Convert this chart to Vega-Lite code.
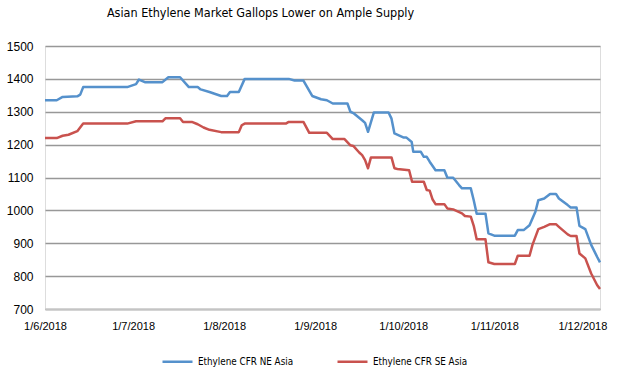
{
  "$schema": "https://vega.github.io/schema/vega-lite/v6.json",
  "width": 555,
  "height": 263,
  "autosize": {"type": "none"},
  "padding": {"left": 45, "top": 46, "right": 18, "bottom": 67},
  "background": "white",
  "title": {
    "text": "Asian Ethylene Market Gallops Lower on Ample Supply",
    "font": "DejaVu Sans Condensed, Liberation Sans",
    "fontSize": 12.5,
    "fontWeight": "normal",
    "color": "#000000",
    "anchor": "middle",
    "frame": "group",
    "dx": -62,
    "offset": 21
  },
  "data": {
    "values": [
      {"d": "2018-06-01", "s": "Ethylene CFR NE Asia", "p": 1335},
      {"d": "2018-06-05", "s": "Ethylene CFR NE Asia", "p": 1335},
      {"d": "2018-06-07", "s": "Ethylene CFR NE Asia", "p": 1345},
      {"d": "2018-06-12", "s": "Ethylene CFR NE Asia", "p": 1347},
      {"d": "2018-06-13", "s": "Ethylene CFR NE Asia", "p": 1352},
      {"d": "2018-06-14", "s": "Ethylene CFR NE Asia", "p": 1375},
      {"d": "2018-06-29", "s": "Ethylene CFR NE Asia", "p": 1375},
      {"d": "2018-07-02", "s": "Ethylene CFR NE Asia", "p": 1384},
      {"d": "2018-07-03", "s": "Ethylene CFR NE Asia", "p": 1398},
      {"d": "2018-07-05", "s": "Ethylene CFR NE Asia", "p": 1390},
      {"d": "2018-07-11", "s": "Ethylene CFR NE Asia", "p": 1390},
      {"d": "2018-07-13", "s": "Ethylene CFR NE Asia", "p": 1405},
      {"d": "2018-07-17", "s": "Ethylene CFR NE Asia", "p": 1405},
      {"d": "2018-07-20", "s": "Ethylene CFR NE Asia", "p": 1375},
      {"d": "2018-07-23", "s": "Ethylene CFR NE Asia", "p": 1375},
      {"d": "2018-07-24", "s": "Ethylene CFR NE Asia", "p": 1368},
      {"d": "2018-07-27", "s": "Ethylene CFR NE Asia", "p": 1360},
      {"d": "2018-07-31", "s": "Ethylene CFR NE Asia", "p": 1348},
      {"d": "2018-08-02", "s": "Ethylene CFR NE Asia", "p": 1348},
      {"d": "2018-08-03", "s": "Ethylene CFR NE Asia", "p": 1360},
      {"d": "2018-08-06", "s": "Ethylene CFR NE Asia", "p": 1360},
      {"d": "2018-08-08", "s": "Ethylene CFR NE Asia", "p": 1400},
      {"d": "2018-08-23", "s": "Ethylene CFR NE Asia", "p": 1400},
      {"d": "2018-08-25", "s": "Ethylene CFR NE Asia", "p": 1395},
      {"d": "2018-08-28", "s": "Ethylene CFR NE Asia", "p": 1395},
      {"d": "2018-08-31", "s": "Ethylene CFR NE Asia", "p": 1348},
      {"d": "2018-09-03", "s": "Ethylene CFR NE Asia", "p": 1338},
      {"d": "2018-09-05", "s": "Ethylene CFR NE Asia", "p": 1335},
      {"d": "2018-09-07", "s": "Ethylene CFR NE Asia", "p": 1325},
      {"d": "2018-09-12", "s": "Ethylene CFR NE Asia", "p": 1325},
      {"d": "2018-09-13", "s": "Ethylene CFR NE Asia", "p": 1300},
      {"d": "2018-09-14", "s": "Ethylene CFR NE Asia", "p": 1296},
      {"d": "2018-09-17", "s": "Ethylene CFR NE Asia", "p": 1274},
      {"d": "2018-09-18", "s": "Ethylene CFR NE Asia", "p": 1266},
      {"d": "2018-09-19", "s": "Ethylene CFR NE Asia", "p": 1239},
      {"d": "2018-09-21", "s": "Ethylene CFR NE Asia", "p": 1298},
      {"d": "2018-09-26", "s": "Ethylene CFR NE Asia", "p": 1298},
      {"d": "2018-09-27", "s": "Ethylene CFR NE Asia", "p": 1279},
      {"d": "2018-09-28", "s": "Ethylene CFR NE Asia", "p": 1234},
      {"d": "2018-10-01", "s": "Ethylene CFR NE Asia", "p": 1222},
      {"d": "2018-10-02", "s": "Ethylene CFR NE Asia", "p": 1222},
      {"d": "2018-10-03T21:00:00Z", "s": "Ethylene CFR NE Asia", "p": 1208},
      {"d": "2018-10-04T10:00:00Z", "s": "Ethylene CFR NE Asia", "p": 1178},
      {"d": "2018-10-07", "s": "Ethylene CFR NE Asia", "p": 1178},
      {"d": "2018-10-08", "s": "Ethylene CFR NE Asia", "p": 1163},
      {"d": "2018-10-09", "s": "Ethylene CFR NE Asia", "p": 1163},
      {"d": "2018-10-10", "s": "Ethylene CFR NE Asia", "p": 1148},
      {"d": "2018-10-12", "s": "Ethylene CFR NE Asia", "p": 1122},
      {"d": "2018-10-15", "s": "Ethylene CFR NE Asia", "p": 1122},
      {"d": "2018-10-16", "s": "Ethylene CFR NE Asia", "p": 1100},
      {"d": "2018-10-18", "s": "Ethylene CFR NE Asia", "p": 1099},
      {"d": "2018-10-20", "s": "Ethylene CFR NE Asia", "p": 1077},
      {"d": "2018-10-21", "s": "Ethylene CFR NE Asia", "p": 1067},
      {"d": "2018-10-24", "s": "Ethylene CFR NE Asia", "p": 1067},
      {"d": "2018-10-25", "s": "Ethylene CFR NE Asia", "p": 1031},
      {"d": "2018-10-26", "s": "Ethylene CFR NE Asia", "p": 990},
      {"d": "2018-10-29", "s": "Ethylene CFR NE Asia", "p": 990},
      {"d": "2018-10-30", "s": "Ethylene CFR NE Asia", "p": 930},
      {"d": "2018-11-01", "s": "Ethylene CFR NE Asia", "p": 923},
      {"d": "2018-11-08", "s": "Ethylene CFR NE Asia", "p": 923},
      {"d": "2018-11-09", "s": "Ethylene CFR NE Asia", "p": 940},
      {"d": "2018-11-11", "s": "Ethylene CFR NE Asia", "p": 940},
      {"d": "2018-11-13", "s": "Ethylene CFR NE Asia", "p": 955},
      {"d": "2018-11-15", "s": "Ethylene CFR NE Asia", "p": 996},
      {"d": "2018-11-16", "s": "Ethylene CFR NE Asia", "p": 1031},
      {"d": "2018-11-18", "s": "Ethylene CFR NE Asia", "p": 1036},
      {"d": "2018-11-20", "s": "Ethylene CFR NE Asia", "p": 1050},
      {"d": "2018-11-22", "s": "Ethylene CFR NE Asia", "p": 1050},
      {"d": "2018-11-23", "s": "Ethylene CFR NE Asia", "p": 1036},
      {"d": "2018-11-26", "s": "Ethylene CFR NE Asia", "p": 1016},
      {"d": "2018-11-27", "s": "Ethylene CFR NE Asia", "p": 1009},
      {"d": "2018-11-29", "s": "Ethylene CFR NE Asia", "p": 1009},
      {"d": "2018-11-30", "s": "Ethylene CFR NE Asia", "p": 953},
      {"d": "2018-12-02", "s": "Ethylene CFR NE Asia", "p": 943},
      {"d": "2018-12-04", "s": "Ethylene CFR NE Asia", "p": 895},
      {"d": "2018-12-06", "s": "Ethylene CFR NE Asia", "p": 859},
      {"d": "2018-12-07", "s": "Ethylene CFR NE Asia", "p": 842},
      {"d": "2018-06-01", "s": "Ethylene CFR SE Asia", "p": 1220},
      {"d": "2018-06-05", "s": "Ethylene CFR SE Asia", "p": 1220},
      {"d": "2018-06-07", "s": "Ethylene CFR SE Asia", "p": 1227},
      {"d": "2018-06-09", "s": "Ethylene CFR SE Asia", "p": 1230},
      {"d": "2018-06-12", "s": "Ethylene CFR SE Asia", "p": 1241},
      {"d": "2018-06-14", "s": "Ethylene CFR SE Asia", "p": 1264},
      {"d": "2018-06-29", "s": "Ethylene CFR SE Asia", "p": 1264},
      {"d": "2018-07-02", "s": "Ethylene CFR SE Asia", "p": 1271},
      {"d": "2018-07-11", "s": "Ethylene CFR SE Asia", "p": 1271},
      {"d": "2018-07-12", "s": "Ethylene CFR SE Asia", "p": 1280},
      {"d": "2018-07-17", "s": "Ethylene CFR SE Asia", "p": 1280},
      {"d": "2018-07-18", "s": "Ethylene CFR SE Asia", "p": 1269},
      {"d": "2018-07-21", "s": "Ethylene CFR SE Asia", "p": 1269},
      {"d": "2018-07-23", "s": "Ethylene CFR SE Asia", "p": 1262},
      {"d": "2018-07-25", "s": "Ethylene CFR SE Asia", "p": 1252},
      {"d": "2018-07-27", "s": "Ethylene CFR SE Asia", "p": 1245},
      {"d": "2018-07-31", "s": "Ethylene CFR SE Asia", "p": 1238},
      {"d": "2018-08-06", "s": "Ethylene CFR SE Asia", "p": 1238},
      {"d": "2018-08-07", "s": "Ethylene CFR SE Asia", "p": 1259},
      {"d": "2018-08-08", "s": "Ethylene CFR SE Asia", "p": 1264},
      {"d": "2018-08-22", "s": "Ethylene CFR SE Asia", "p": 1264},
      {"d": "2018-08-23", "s": "Ethylene CFR SE Asia", "p": 1269},
      {"d": "2018-08-28", "s": "Ethylene CFR SE Asia", "p": 1269},
      {"d": "2018-08-30", "s": "Ethylene CFR SE Asia", "p": 1236},
      {"d": "2018-09-05", "s": "Ethylene CFR SE Asia", "p": 1236},
      {"d": "2018-09-07", "s": "Ethylene CFR SE Asia", "p": 1217},
      {"d": "2018-09-11", "s": "Ethylene CFR SE Asia", "p": 1217},
      {"d": "2018-09-13", "s": "Ethylene CFR SE Asia", "p": 1198},
      {"d": "2018-09-14", "s": "Ethylene CFR SE Asia", "p": 1196},
      {"d": "2018-09-16", "s": "Ethylene CFR SE Asia", "p": 1176},
      {"d": "2018-09-17", "s": "Ethylene CFR SE Asia", "p": 1168},
      {"d": "2018-09-18", "s": "Ethylene CFR SE Asia", "p": 1153},
      {"d": "2018-09-19", "s": "Ethylene CFR SE Asia", "p": 1128},
      {"d": "2018-09-20", "s": "Ethylene CFR SE Asia", "p": 1161},
      {"d": "2018-09-27", "s": "Ethylene CFR SE Asia", "p": 1161},
      {"d": "2018-09-28", "s": "Ethylene CFR SE Asia", "p": 1128},
      {"d": "2018-09-29", "s": "Ethylene CFR SE Asia", "p": 1126},
      {"d": "2018-10-03", "s": "Ethylene CFR SE Asia", "p": 1122},
      {"d": "2018-10-04", "s": "Ethylene CFR SE Asia", "p": 1087},
      {"d": "2018-10-08", "s": "Ethylene CFR SE Asia", "p": 1087},
      {"d": "2018-10-09", "s": "Ethylene CFR SE Asia", "p": 1062},
      {"d": "2018-10-10", "s": "Ethylene CFR SE Asia", "p": 1060},
      {"d": "2018-10-11", "s": "Ethylene CFR SE Asia", "p": 1033},
      {"d": "2018-10-12", "s": "Ethylene CFR SE Asia", "p": 1019},
      {"d": "2018-10-15", "s": "Ethylene CFR SE Asia", "p": 1019},
      {"d": "2018-10-16", "s": "Ethylene CFR SE Asia", "p": 1006},
      {"d": "2018-10-18", "s": "Ethylene CFR SE Asia", "p": 1003},
      {"d": "2018-10-21", "s": "Ethylene CFR SE Asia", "p": 991},
      {"d": "2018-10-22", "s": "Ethylene CFR SE Asia", "p": 983},
      {"d": "2018-10-24", "s": "Ethylene CFR SE Asia", "p": 981},
      {"d": "2018-10-25", "s": "Ethylene CFR SE Asia", "p": 953},
      {"d": "2018-10-26", "s": "Ethylene CFR SE Asia", "p": 912},
      {"d": "2018-10-29", "s": "Ethylene CFR SE Asia", "p": 912},
      {"d": "2018-10-30", "s": "Ethylene CFR SE Asia", "p": 842},
      {"d": "2018-11-01", "s": "Ethylene CFR SE Asia", "p": 837},
      {"d": "2018-11-08", "s": "Ethylene CFR SE Asia", "p": 837},
      {"d": "2018-11-09", "s": "Ethylene CFR SE Asia", "p": 862},
      {"d": "2018-11-13", "s": "Ethylene CFR SE Asia", "p": 862},
      {"d": "2018-11-14", "s": "Ethylene CFR SE Asia", "p": 895},
      {"d": "2018-11-16", "s": "Ethylene CFR SE Asia", "p": 943},
      {"d": "2018-11-18", "s": "Ethylene CFR SE Asia", "p": 950},
      {"d": "2018-11-20", "s": "Ethylene CFR SE Asia", "p": 958},
      {"d": "2018-11-22", "s": "Ethylene CFR SE Asia", "p": 958},
      {"d": "2018-11-23", "s": "Ethylene CFR SE Asia", "p": 950},
      {"d": "2018-11-26", "s": "Ethylene CFR SE Asia", "p": 927},
      {"d": "2018-11-27", "s": "Ethylene CFR SE Asia", "p": 922},
      {"d": "2018-11-29", "s": "Ethylene CFR SE Asia", "p": 922},
      {"d": "2018-11-30", "s": "Ethylene CFR SE Asia", "p": 869},
      {"d": "2018-12-02", "s": "Ethylene CFR SE Asia", "p": 854},
      {"d": "2018-12-04", "s": "Ethylene CFR SE Asia", "p": 808},
      {"d": "2018-12-06", "s": "Ethylene CFR SE Asia", "p": 773},
      {"d": "2018-12-07", "s": "Ethylene CFR SE Asia", "p": 761}
    ]
  },
  "mark": {"type": "line", "strokeWidth": 2.5, "strokeJoin": "round"},
  "encoding": {
    "x": {
      "field": "d",
      "type": "temporal",
      "scale": {
        "type": "utc",
        "domain": [
          {"year": 2018, "month": 6, "date": 1, "utc": true},
          {"year": 2018, "month": 12, "date": 7, "utc": true}
        ]
      },
      "axis": {
        "title": null,
        "values": [
          {"year": 2018, "month": 6, "date": 1, "utc": true},
          {"year": 2018, "month": 7, "date": 1, "utc": true},
          {"year": 2018, "month": 8, "date": 1, "utc": true},
          {"year": 2018, "month": 9, "date": 1, "utc": true},
          {"year": 2018, "month": 10, "date": 1, "utc": true},
          {"year": 2018, "month": 11, "date": 1, "utc": true},
          {"year": 2018, "month": 12, "date": 1, "utc": true}
        ],
        "format": "%-d/%-m/%Y",
        "grid": false,
        "ticks": false,
        "tickSize": 0,
        "domain": true,
        "domainColor": "#c4c4c4",
        "domainWidth": 2,
        "labelFont": "Liberation Sans",
        "labelFontSize": 11,
        "labelColor": "#000000",
        "labelPadding": 11,
        "labelFlush": false,
        "labelOverlap": false
      }
    },
    "y": {
      "field": "p",
      "type": "quantitative",
      "scale": {"domain": [700, 1500], "nice": false, "zero": false},
      "axis": {
        "title": null,
        "values": [700, 800, 900, 1000, 1100, 1200, 1300, 1400, 1500],
        "format": "d",
        "grid": true,
        "gridColor": "#989898",
        "gridWidth": 1.6,
        "domain": false,
        "ticks": false,
        "tickSize": 0,
        "labelFont": "Liberation Sans",
        "labelFontSize": 12,
        "labelColor": "#000000",
        "labelPadding": 12
      }
    },
    "color": {
      "field": "s",
      "type": "nominal",
      "scale": {
        "domain": ["Ethylene CFR NE Asia", "Ethylene CFR SE Asia"],
        "range": ["#5591CC", "#C9524E"]
      },
      "legend": {
        "title": null,
        "orient": "none",
        "direction": "horizontal",
        "legendX": 116,
        "legendY": 299,
        "symbolType": "stroke",
        "symbolSize": 900,
        "symbolStrokeWidth": 2.5,
        "labelFont": "DejaVu Sans Condensed, Liberation Sans",
        "labelFontSize": 9.8,
        "labelColor": "#000000",
        "labelOffset": 4,
        "columnPadding": 38,
        "padding": 0
      }
    }
  }
}
